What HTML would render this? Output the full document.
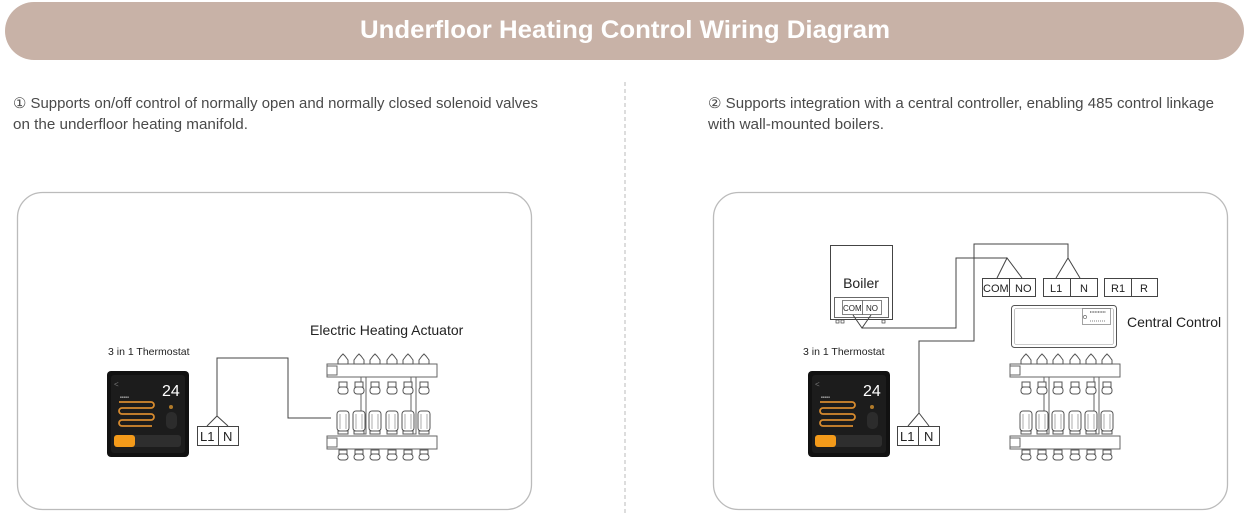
<!DOCTYPE html>
<html><head><meta charset="utf-8"><style>
html,body{margin:0;padding:0;background:#fff;}
svg{display:block;}
text{font-family:"Liberation Sans",sans-serif;}
</style></head><body>
<svg width="1249" height="513" viewBox="0 0 1249 513" xmlns="http://www.w3.org/2000/svg">
<defs>
<g id="valveTop">
  <path d="M-5,9 L-5,5 L-2,1 L0,-1 L2,1 L5,5 L5,9 Z" fill="#fff" stroke="#555" stroke-width="1"/>
  <rect x="-4" y="27" width="8" height="5" fill="#fff" stroke="#555" stroke-width="1"/>
  <rect x="-5" y="32" width="10" height="7" rx="3" fill="#fff" stroke="#555" stroke-width="1"/>
</g>
<g id="valveBot">
  <rect x="-6" y="0" width="12" height="20" rx="3" fill="#fff" stroke="#555" stroke-width="1"/>
  <line x1="-3" y1="3" x2="-3" y2="18" stroke="#888" stroke-width="0.7"/>
  <line x1="3" y1="3" x2="3" y2="18" stroke="#888" stroke-width="0.7"/>
  <rect x="-5" y="20" width="10" height="3" fill="#fff" stroke="#555" stroke-width="1"/>
  <rect x="-4" y="39" width="8" height="4" fill="#fff" stroke="#555" stroke-width="1"/>
  <rect x="-5" y="43" width="10" height="6" rx="3" fill="#fff" stroke="#555" stroke-width="1"/>
</g>
<g id="thermo">
  <rect x="107" y="371" width="82" height="86" rx="4" fill="#111"/>
  <rect x="111" y="375" width="74" height="78" rx="3" fill="#1c1c1c"/>
  <text x="114" y="387" font-size="8" fill="#777">&lt;</text>
  <text x="120" y="398" font-size="3" fill="#999">■■■■■</text>
  <text x="162" y="396" font-size="16" fill="#fff">24</text>
  <g fill="none" stroke="#d68a2e" stroke-width="1.8">
    <path d="M119,402 H151 A3,3 0 0 1 151,408 H122 A3,3 0 0 0 122,414 H151 A3,3 0 0 1 151,420 H122 A3,3 0 0 0 122,426 H152"/>
  </g>
  <rect x="166" y="412" width="11" height="17" rx="5" fill="#2c2c2c"/>
  <circle cx="171" cy="407" r="2" fill="#b07a2a"/>
  <rect x="114" y="435" width="67" height="12" rx="3" fill="#2e2e2e"/>
  <rect x="114" y="435" width="21" height="12" rx="3" fill="#f39a1a"/>
</g>
</defs>

<rect x="5" y="2" width="1239" height="58" rx="29" fill="#c8b2a7"/>
<text x="625" y="38" font-size="25" font-weight="bold" fill="#fff" text-anchor="middle" textLength="530" lengthAdjust="spacingAndGlyphs">Underfloor Heating Control Wiring Diagram</text>

<line x1="625" y1="82" x2="625" y2="513" stroke="#bbb" stroke-width="1" stroke-dasharray="4,3"/>

<g font-size="14.5" fill="#4a4a4a">
<text x="13" y="108" textLength="525" lengthAdjust="spacingAndGlyphs">① Supports on/off control of normally open and normally closed solenoid valves</text>
<text x="13" y="129" textLength="235" lengthAdjust="spacingAndGlyphs">on the underfloor heating manifold.</text>
<text x="708" y="108" textLength="506" lengthAdjust="spacingAndGlyphs">② Supports integration with a central controller, enabling 485 control linkage</text>
<text x="708" y="129" textLength="176" lengthAdjust="spacingAndGlyphs">with wall-mounted boilers.</text>
</g>

<rect x="17.5" y="192.5" width="514" height="317" rx="25" fill="#fff" stroke="#bbb" stroke-width="1.3"/>
<rect x="713.5" y="192.5" width="514" height="317" rx="25" fill="#fff" stroke="#bbb" stroke-width="1.3"/>

<text x="108" y="355" font-size="10.5" fill="#222">3 in 1  Thermostat</text>
<use href="#thermo"/>
<text x="310" y="335" font-size="14" fill="#222">Electric Heating Actuator</text>
<g fill="#fff" stroke="#444" stroke-width="1">
<rect x="197.5" y="426.5" width="21" height="19"/><rect x="218.5" y="426.5" width="20" height="19"/>
</g>
<text x="200" y="441" font-size="13" fill="#222">L1</text><text x="223" y="441" font-size="13" fill="#222">N</text>
<path d="M207,426 L217,416 L228,426 M217,416 V358 H288 V418 H331" fill="none" stroke="#444" stroke-width="1"/>

<g id="mf">
 <g fill="#fff" stroke="#666" stroke-width="1">
  <rect x="361" y="376" width="5" height="58"/>
  <rect x="411" y="376" width="5" height="58"/>
  <rect x="327" y="364" width="110" height="13"/>
  <rect x="327" y="366" width="10" height="9"/>
  <rect x="327" y="436" width="110" height="13"/>
  <rect x="327" y="438" width="10" height="9"/>
 </g>
 <use href="#valveTop" transform="translate(343,355)"/>
 <use href="#valveTop" transform="translate(359,355)"/>
 <use href="#valveTop" transform="translate(375,355)"/>
 <use href="#valveTop" transform="translate(392,355)"/>
 <use href="#valveTop" transform="translate(408,355)"/>
 <use href="#valveTop" transform="translate(424,355)"/>
 <use href="#valveBot" transform="translate(343,411)"/>
 <use href="#valveBot" transform="translate(359,411)"/>
 <use href="#valveBot" transform="translate(375,411)"/>
 <use href="#valveBot" transform="translate(392,411)"/>
 <use href="#valveBot" transform="translate(408,411)"/>
 <use href="#valveBot" transform="translate(424,411)"/>
</g>

<text x="803" y="355" font-size="10.5" fill="#222">3 in 1  Thermostat</text>
<use href="#thermo" transform="translate(701,0)"/>
<use href="#mf" transform="translate(683,0)"/>

<g fill="#fff" stroke="#444" stroke-width="1">
<rect x="897.5" y="426.5" width="21" height="19"/><rect x="918.5" y="426.5" width="21" height="19"/>
</g>
<text x="900" y="441" font-size="13" fill="#222">L1</text><text x="924" y="441" font-size="13" fill="#222">N</text>

<rect x="830.5" y="245.5" width="62" height="74" fill="#fff" stroke="#444" stroke-width="1"/>
<text x="861" y="288" font-size="14" fill="#222" text-anchor="middle">Boiler</text>
<rect x="834.5" y="297.5" width="54" height="20" fill="#fff" stroke="#444" stroke-width="0.8"/>
<rect x="842.5" y="300.5" width="20" height="14" fill="#fff" stroke="#666" stroke-width="0.8"/>
<rect x="862.5" y="300.5" width="19" height="14" fill="#fff" stroke="#666" stroke-width="0.8"/>
<text x="843" y="311" font-size="8" fill="#222">COM</text><text x="866" y="311" font-size="8" fill="#222">NO</text>
<rect x="836" y="320" width="3" height="3" fill="none" stroke="#444" stroke-width="0.7"/>
<rect x="841" y="320" width="3" height="3" fill="none" stroke="#444" stroke-width="0.7"/>
<rect x="882" y="320" width="3" height="3" fill="none" stroke="#444" stroke-width="0.7"/>

<g fill="#fff" stroke="#444" stroke-width="1">
<rect x="982.5" y="278.5" width="27" height="18"/><rect x="1009.5" y="278.5" width="26" height="18"/>
<rect x="1043.5" y="278.5" width="27" height="18"/><rect x="1070.5" y="278.5" width="27" height="18"/>
<rect x="1104.5" y="278.5" width="27" height="18"/><rect x="1131.5" y="278.5" width="26" height="18"/>
</g>
<g font-size="11" fill="#222">
<text x="983" y="292">COM</text><text x="1015" y="292">NO</text>
<text x="1050" y="292">L1</text><text x="1080" y="292">N</text>
<text x="1111" y="292">R1</text><text x="1140" y="292">R</text>
</g>

<g fill="none" stroke="#444" stroke-width="1">
<path d="M853,315 L862,328 L871,315 M862,328 H956 V258 H1007 M997,278 L1007,258 L1022,278"/>
<path d="M908,426 L919,413 L929,426 M919,413 V341 H974 V244 H1068 V258 M1056,278 L1068,258 L1080,278"/>
</g>

<rect x="1011.5" y="305.5" width="105" height="42" rx="3" fill="#fff" stroke="#555" stroke-width="1"/>
<rect x="1014.5" y="308.5" width="99" height="36" rx="2" fill="none" stroke="#999" stroke-width="0.6"/>
<rect x="1082.5" y="308.5" width="28" height="16" fill="none" stroke="#666" stroke-width="0.6"/>
<circle cx="1085" cy="317" r="1.6" fill="none" stroke="#555" stroke-width="0.6"/>
<line x1="1090" y1="312" x2="1106" y2="312" stroke="#555" stroke-width="1.2" stroke-dasharray="1,0.6"/>
<line x1="1090" y1="321" x2="1106" y2="321" stroke="#555" stroke-width="0.8" stroke-dasharray="1,1"/>
<text x="1127" y="327" font-size="14" fill="#222">Central Control</text>
</svg>
</body></html>
